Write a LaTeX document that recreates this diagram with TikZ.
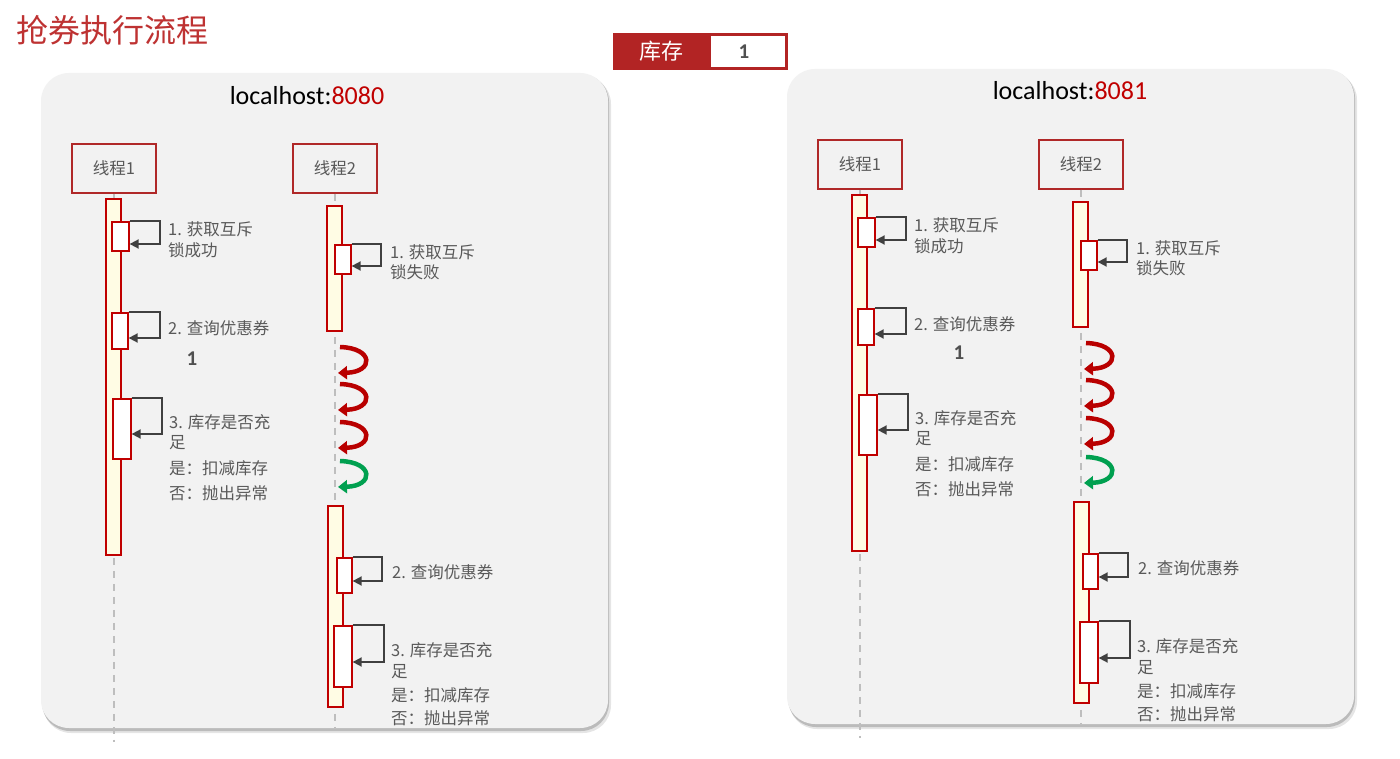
\documentclass[tikz,border=0pt]{standalone}
\usepackage{fontspec}
\newfontfamily\cjk{Noto Sans CJK SC}
\newfontfamily\lat{Carlito}
\usetikzlibrary{arrows.meta}
\definecolor{panelbg}{RGB}{242,242,242}
\definecolor{boxred}{RGB}{176,40,40}
\definecolor{barred}{RGB}{192,0,0}
\definecolor{barfill}{RGB}{255,252,228}
\definecolor{txtgray}{RGB}{89,89,89}
\definecolor{arrgray}{RGB}{64,64,64}
\definecolor{titlered}{RGB}{190,50,50}
\definecolor{stockred}{RGB}{178,36,36}
\definecolor{hostred}{RGB}{192,0,0}
\definecolor{uturnred}{RGB}{185,0,0}
\definecolor{uturngreen}{RGB}{0,160,80}
\definecolor{lifegray}{RGB}{190,190,190}
\definecolor{numgray}{RGB}{80,80,80}
\tikzset{
  threadbox/.style={draw=boxred, line width=1.5pt, fill=panelbg, minimum width=84pt, minimum height=49pt,
    font=\cjk\fontsize{16.5}{20}\selectfont, text=txtgray, inner sep=0pt},
  actbar/.style={draw=barred, line width=1.3pt, fill=barfill, inner sep=0pt},
  subbox/.style={draw=barred, line width=1.3pt, fill=white, inner sep=0pt},
  callline/.style={draw=arrgray, line width=1.8pt, -{Triangle[length=9pt,width=9pt]}},
  lbl/.style={font=\cjk\fontsize{16.5}{20}\selectfont, text=txtgray, anchor=west, inner sep=0pt},
  lifeline/.style={draw=lifegray, line width=1.5pt, dash pattern=on 7pt off 6pt},
  uturn/.style={line width=4.5pt, -{Triangle[length=9pt,width=13pt]}},
  hostlbl/.style={font=\lat\fontsize{26}{30}\selectfont, text=black, inner sep=0pt},
  numlbl/.style={font=\lat\bfseries\fontsize{21}{24}\selectfont, text=numgray, inner sep=0pt},
}
% #1 name, #2 x1, #3 y1, #4 x2, #5 y2, #6 x of right turn, #7 y of arrow
\newcommand\selfcall[7]{%
  \node[subbox, minimum width={#4-#2}, minimum height={#5-#3}] (#1) at ({(#2+#4)/2},{(#3+#5)/2}) {};
  \coordinate (#1r) at (#6,#7);
  \draw[callline] (#1.north east) -| (#1r) -- (#1.east |- #1r);
}
\newcommand\uturnarrow[3]{% #1 name, #2 top y, #3 colour
  \coordinate (#1a) at (340,#2);
  \coordinate (#1b) at (338,#2+26);
  \draw[uturn, draw=#3] (#1a) .. controls (374,#2+1) and (374,#2+25) .. (#1b);
}
\newcommand\panelbody[1]{%
  \node[threadbox] (#1t1) at (114,168.5) {线程1};
  \node[threadbox] (#1t2) at (335,168.5) {线程2};
  \coordinate (#1e1) at (114,742);
  \coordinate (#1e2) at (335,728);
  \draw[lifeline] (#1t1.south) -- (#1e1);
  \draw[lifeline] (#1t2.south) -- (#1e2);
  \node[actbar, minimum width=15pt, minimum height=356pt] (#1b1) at (113.5,377) {};
  \node[actbar, minimum width=15pt, minimum height=125pt] (#1b2) at (334.5,268.5) {};
  \node[actbar, minimum width=15pt, minimum height=201pt] (#1b3) at (335.5,606.5) {};
  % thread 1
  \selfcall{#1sa}{112}{222}{129}{251}{160}{244}
  \node[lbl] (#1la1) at (168,229) {1. 获取互斥};
  \node[lbl] (#1la2) at (168,250) {锁成功};
  \selfcall{#1sb}{112}{313}{128}{349}{160}{338}
  \node[lbl] (#1lb1) at (168,328) {2. 查询优惠券};
  \selfcall{#1sc}{113}{399}{131}{459}{162}{434}
  \node[lbl] (#1lc1) at (169,422) {3. 库存是否充};
  \node[lbl] (#1lc2) at (169,443) {足};
  \node[lbl] (#1lc3) at (169,468) {是：扣减库存};
  \node[lbl] (#1lc4) at (169,493) {否：抛出异常};
  % thread 2
  \selfcall{#1sd}{335}{245}{351}{274}{381}{266}
  \node[lbl] (#1ld1) at (390,252) {1. 获取互斥};
  \node[lbl] (#1ld2) at (390,272) {锁失败};
  \uturnarrow{#1u1}{347}{uturnred}
  \uturnarrow{#1u2}{384}{uturnred}
  \uturnarrow{#1u3}{422}{uturnred}
  \uturnarrow{#1u4}{461}{uturngreen}
  \selfcall{#1se}{337}{558}{352}{593}{382}{581}
  \node[lbl] (#1le1) at (392,572) {2. 查询优惠券};
  \selfcall{#1sf}{334}{626}{352}{687}{384}{662}
  \node[lbl] (#1lf1) at (391,650) {3. 库存是否充};
  \node[lbl] (#1lf2) at (391,672) {足};
  \node[lbl] (#1lf3) at (391,695) {是：扣减库存};
  \node[lbl] (#1lf4) at (391,718) {否：抛出异常};
}
\newcommand\panelbg{%
  \fill[black, opacity=0.10, rounded corners=28pt] (43,76) rectangle (611,733);
  \fill[black, opacity=0.18, rounded corners=28pt] (42,74) rectangle (609,731);
  \fill[panelbg, rounded corners=28pt] (41,73) rectangle (608,728);
}
\begin{document}
\begin{tikzpicture}[x=1pt,y=-1pt]
  \useasboundingbox (0,0) rectangle (1400,759);
  \fill[white] (0,0) rectangle (1400,759);
  % title
  \node[font=\cjk\fontsize{32}{36}\selectfont, text=titlered, anchor=west, inner sep=0pt] (title) at (16,30) {抢券执行流程};
  % stock box
  \fill[stockred] (613,33) rectangle (788,70);
  \node[fill=white, minimum width=74pt, minimum height=31pt, inner sep=0pt] (stockval) at (747.5,51.5) {};
  \node[font=\cjk\fontsize{22}{26}\selectfont, text=white, inner sep=0pt] (stocklbl) at (661,51.5) {库存};
  \node[numlbl] (stocknum) at (744,51.5) {1};
  % left panel
  \panelbg
  \node[hostlbl] (host1) at (307,96) {localhost:\textcolor{hostred}{8080}};
  \panelbody{L}
  \node[numlbl] (Lone) at (192,359) {1};
  % right panel
  \begin{scope}[shift={(746,-4)}]
    \panelbg
    \panelbody{R}
  \end{scope}
  \node[hostlbl] (host2) at (1070,91) {localhost:\textcolor{hostred}{8081}};
  \node[numlbl] (Rone) at (959,353) {1};
\end{tikzpicture}
\end{document}
